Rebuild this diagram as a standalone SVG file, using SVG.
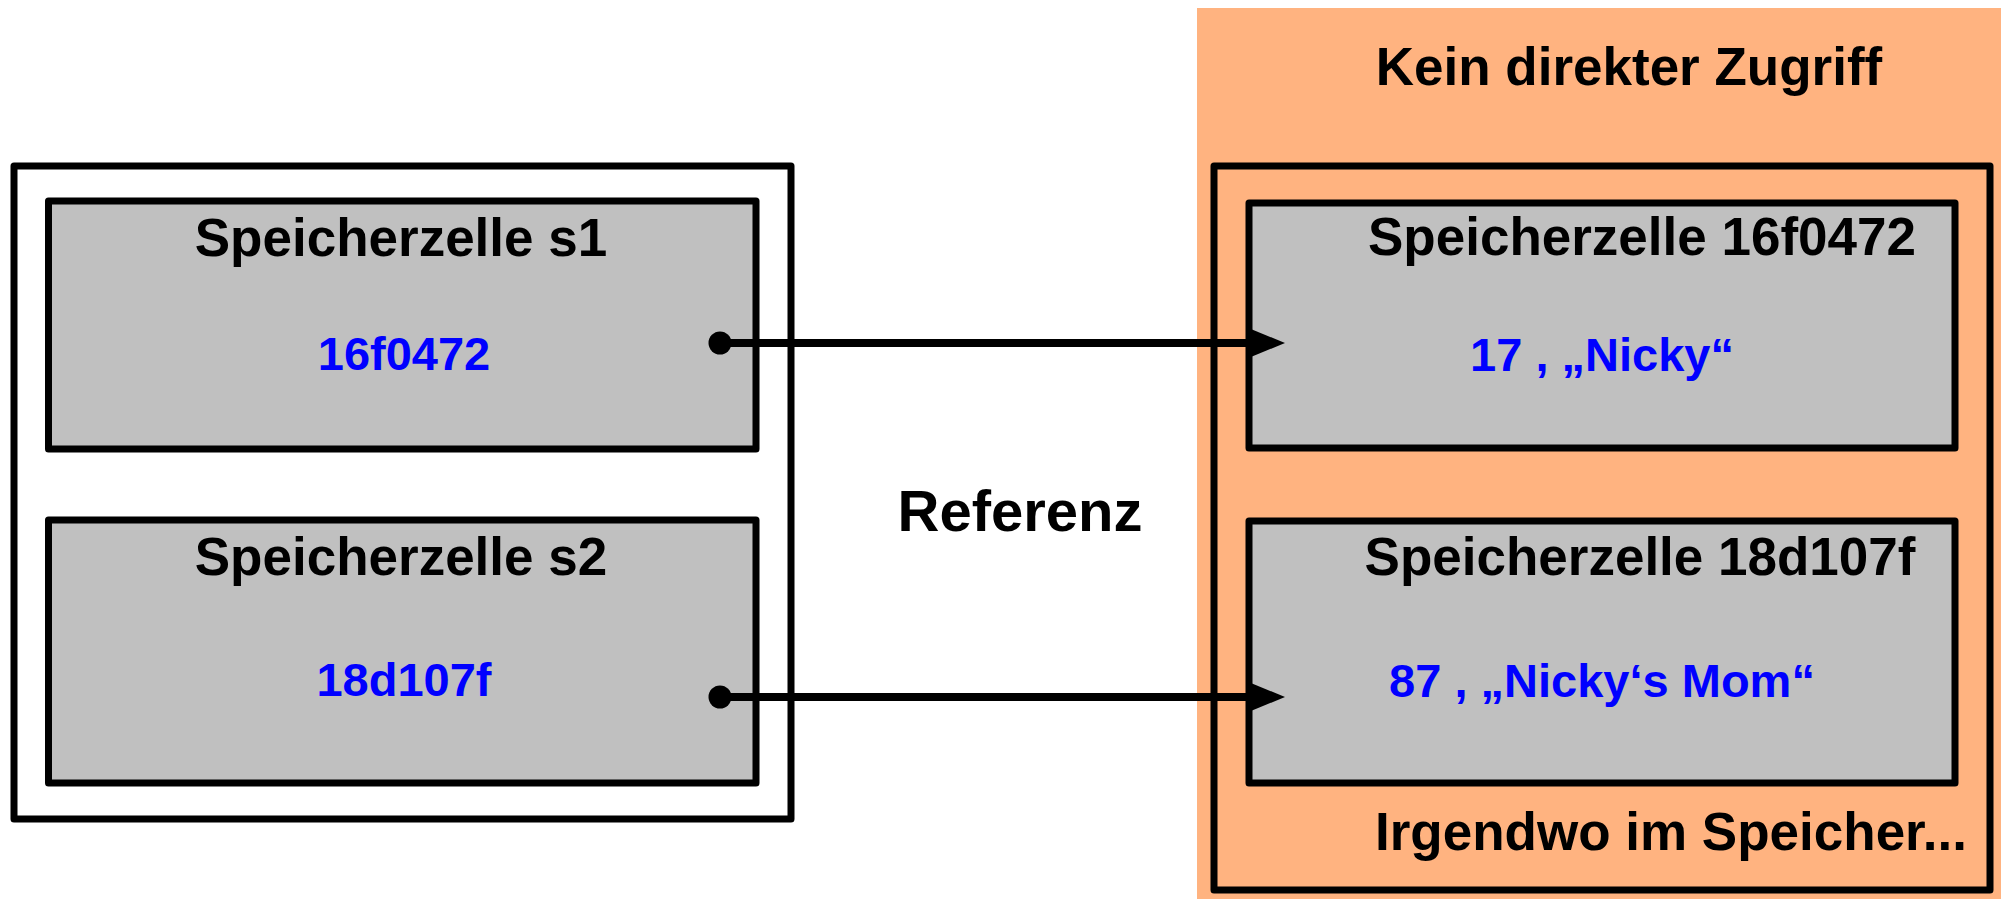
<svg xmlns="http://www.w3.org/2000/svg" width="2001" height="899" viewBox="0 0 2001 899">
<defs>
<style>
.box{fill:#FFFFFF;stroke:#000;stroke-width:7;stroke-linejoin:round}
.cell{fill:#C0C0C0;stroke:#000;stroke-width:7;stroke-linejoin:round}
.t{font-family:"Liberation Sans",Arial,sans-serif;font-weight:bold;fill:#000;text-anchor:middle}
.v{font-family:"Liberation Sans",Arial,sans-serif;font-weight:bold;fill:#0000FF;text-anchor:middle;font-size:47px}
.conn{stroke:#000;stroke-width:8;fill:none}
</style>
<marker id="arr" markerUnits="userSpaceOnUse" markerWidth="42" markerHeight="36" refX="2" refY="18" orient="auto">
<path d="M2,2 L41,18 L2,34 Z" fill="#000"/>
</marker>
<marker id="dot" markerUnits="userSpaceOnUse" markerWidth="26" markerHeight="26" refX="13" refY="13" orient="auto">
<circle cx="13" cy="13" r="11.5" fill="#000"/>
</marker>
</defs>
<rect x="0" y="0" width="2001" height="899" fill="#FFFFFF"/>
<g id="memory-area">
<rect x="1197" y="8" width="804" height="891" fill="#FFB380"/>
<text class="t" x="1629" y="85" font-size="53">Kein direkter Zugriff</text>
<rect x="1214" y="166" width="776" height="724" fill="none" stroke="#000" stroke-width="7" stroke-linejoin="round"/>
<text class="t" x="1671" y="850" font-size="53">Irgendwo im Speicher...</text>
</g>
<g id="stack-frame">
<rect class="box" x="14" y="166" width="777" height="653"/>
</g>
<g id="cell-s1">
<rect class="cell" x="48.5" y="201" width="707.5" height="248"/>
<text class="t" x="401" y="256" font-size="53">Speicherzelle s1</text>
<text class="v" x="404" y="370">16f0472</text>
</g>
<g id="cell-s2">
<rect class="cell" x="48.5" y="520" width="707.5" height="263"/>
<text class="t" x="401" y="575" font-size="53">Speicherzelle s2</text>
<text class="v" x="404" y="696">18d107f</text>
</g>
<g id="cell-16f0472">
<rect class="cell" x="1249" y="203" width="706" height="245"/>
<text class="t" x="1642" y="255" font-size="53">Speicherzelle 16f0472</text>
<text class="v" x="1602" y="371">17 , „Nicky“</text>
</g>
<g id="cell-18d107f">
<rect class="cell" x="1249" y="521" width="706" height="262"/>
<text class="t" x="1640" y="575" font-size="53">Speicherzelle 18d107f</text>
<text class="v" x="1602" y="697">87 , „Nicky‘s Mom“</text>
</g>
<g id="label-referenz">
<text class="t" x="1020" y="531" font-size="58">Referenz</text>
</g>
<g id="connectors">
<path class="conn" d="M720,343 L1246,343" marker-start="url(#dot)" marker-end="url(#arr)"/>
<path class="conn" d="M720,697 L1246,697" marker-start="url(#dot)" marker-end="url(#arr)"/>
</g>
</svg>
